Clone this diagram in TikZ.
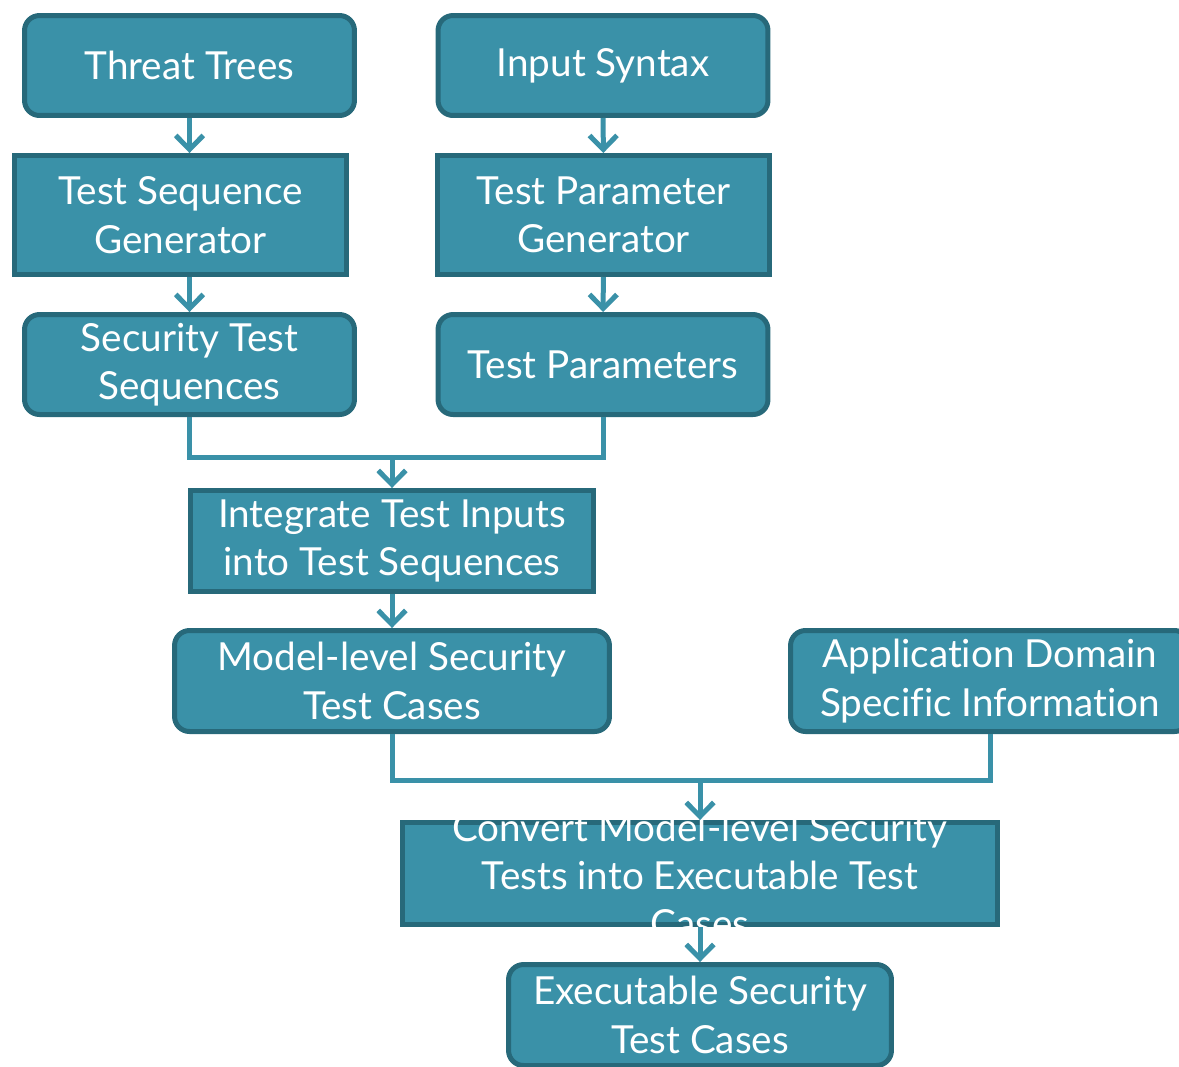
\documentclass[tikz,border=0pt]{standalone}
\usepackage{fontspec}
\setmainfont[Ligatures=NoCommon]{Lato}
\usepackage{tikz}
\usetikzlibrary{arrows.meta,positioning}

\definecolor{boxfill}{HTML}{3A91A8}
\definecolor{boxline}{HTML}{27697A}

\tikzset{
  box/.style={draw=boxline, fill=boxfill, line width=0.1cm, text=white,
    align=center, inner sep=2pt,
    font=\fontsize{22}{27.5}\selectfont},
  roundbox/.style={box, rounded corners=0.3cm},
  squarebox/.style={box},
  flow/.style={draw=boxfill, line width=0.1cm,
    -{Straight Barb[length=0.28cm, width=0.55cm]}},
  joinline/.style={draw=boxfill, line width=0.1cm}
}

\begin{document}
\begin{tikzpicture}[x=0.02cm, y=-0.02cm]
\useasboundingbox (0,0) rectangle (1179,1066);
% Top row
\node[roundbox, minimum width=6.6cm, minimum height=2.0cm] (threat) at (189.5,65.5) {Threat Trees};
\node[roundbox, minimum width=6.6cm, minimum height=2.0cm] (syntax) at (603,65.5) {Input Syntax};
% Generators
\node[squarebox, minimum width=6.64cm, minimum height=2.38cm] (seqgen) at (180.5,215) {Test Sequence\\Generator};
\node[squarebox, minimum width=6.64cm, minimum height=2.38cm] (pargen) at (603.5,215) {Test Parameter\\Generator};
% Outputs
\node[roundbox, minimum width=6.6cm, minimum height=2.0cm] (secseq) at (189.5,364.5) {Security Test\\Sequences};
\node[roundbox, minimum width=6.6cm, minimum height=2.0cm] (params) at (603,364.5) {Test Parameters};
% Integration
\node[squarebox, minimum width=8.06cm, minimum height=2.02cm] (integ) at (392,541) {Integrate Test Inputs\\into Test Sequences};
\node[roundbox, minimum width=8.7cm, minimum height=2.02cm] (model) at (392,681) {Model-level Security\\Test Cases};
\node[roundbox, minimum width=7.98cm, minimum height=2.02cm] (appdom) at (990,681) {Application Domain\\Specific Information};
% Conversion
\node[squarebox, minimum width=11.9cm, minimum height=2.04cm, inner sep=0pt] (convert) at (700,873.5)
  {\smash{\raisebox{-0.22cm}{\parbox[c]{11cm}{\centering Convert Model-level Security\\Tests into Executable Test\\Cases}}}};
\node[roundbox, minimum width=7.66cm, minimum height=2.02cm] (exec) at (700,1015) {Executable Security\\Test Cases};
% Arrows
\draw[flow] (threat) -- (threat.south |- seqgen.north);
\draw[flow] (syntax) -- (pargen);
\draw[flow] (secseq.north |- seqgen.south) -- (secseq.north);
\draw[flow] (pargen) -- (params);
% Joins
\coordinate (joinA) at (392,457);
\draw[joinline] (secseq.south) |- (joinA) -| (params.south);
\draw[flow] (joinA) -- (integ.north);
\draw[flow] (integ) -- (model);
\coordinate (joinB) at (700,780);
\draw[joinline] (model.south) |- (joinB) -| (appdom.south);
\draw[flow] (joinB) -- (convert.north);
\draw[flow] (convert.south) -- (exec.north);
\end{tikzpicture}
\end{document}
